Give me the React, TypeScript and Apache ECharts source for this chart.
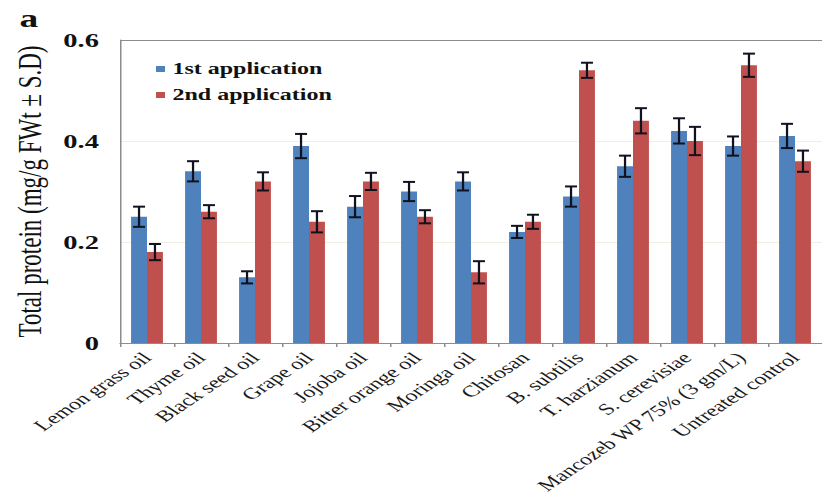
import React, { useEffect, useRef } from "react";
import * as echarts from "echarts";

const categories = [
  "Lemon grass oil",
  "Thyme oil",
  "Black seed oil",
  "Grape oil",
  "Jojoba oil",
  "Bitter orange oil",
  "Moringa oil",
  "Chitosan",
  "B. subtilis",
  "T. harzianum",
  "S. cerevisiae",
  "Mancozeb WP 75% (3 gm/L)",
  "Untreated control",
];
const firstApp = [0.25, 0.34, 0.13, 0.39, 0.27, 0.3, 0.32, 0.22, 0.29, 0.35, 0.42, 0.39, 0.41];
const firstErr = [0.02, 0.02, 0.012, 0.024, 0.021, 0.019, 0.018, 0.012, 0.02, 0.021, 0.025, 0.019, 0.024];
const secondApp = [0.18, 0.26, 0.32, 0.24, 0.32, 0.25, 0.14, 0.24, 0.54, 0.44, 0.4, 0.55, 0.36];
const secondErr = [0.016, 0.013, 0.018, 0.021, 0.017, 0.013, 0.022, 0.014, 0.015, 0.025, 0.028, 0.023, 0.021];
const yTicks = [0, 0.2, 0.4, 0.6];
const seriesNames = ["1st application", "2nd application"];

const CAT_GAP = 0.41;
const SERIF = "'Liberation Serif', 'Times New Roman', serif";

function errorRender(sign: number) {
  return (params: any, api: any) => {
    const i = api.value(0);
    const v = api.value(1);
    const e = api.value(2);
    const band = api.size([1, 0])[0];
    const bw = (band * (1 - CAT_GAP)) / 2;
    const cx = api.coord([i, v])[0] + (sign * bw) / 2;
    const top = api.coord([i, v + e])[1];
    const bot = api.coord([i, v - e])[1];
    const half = 4;
    const st = { stroke: "#10131f", lineWidth: 1.5 };
    const cs = { stroke: "#10131f", lineWidth: 2 };
    return {
      type: "group",
      children: [
        { type: "line", shape: { x1: cx, y1: top, x2: cx, y2: bot }, style: st },
        { type: "line", shape: { x1: cx - half, y1: top, x2: cx + half, y2: top }, style: cs },
        { type: "line", shape: { x1: cx - half, y1: bot, x2: cx + half, y2: bot }, style: cs },
      ],
    };
  };
}

export default function App() {
  const ref = useRef<HTMLDivElement>(null);
  useEffect(() => {
    if (!ref.current) return;
    const chart = echarts.init(ref.current, undefined, { renderer: "svg" });
    chart.setOption({
      animation: false,
      backgroundColor: "#ffffff",
      grid: {
        left: 80,
        right: 0,
        top: 40,
        bottom: 159,
        containLabel: false,
        outerBoundsMode: "none",
      },
      legend: {
        orient: "vertical",
        left: 99,
        top: 56,
        itemWidth: 6,
        itemHeight: 6,
        itemGap: 10,
        icon: "rect",
        data: seriesNames,
        textStyle: { fontFamily: SERIF, fontWeight: "bold", fontSize: 16, color: "#111" },
      },
      graphic: [
        {
          type: "text",
          left: 13,
          top: 6,
          style: { text: "a", font: `bold 25px ${SERIF}`, fill: "#111" },
        },
      ],
      xAxis: {
        type: "category",
        data: categories,
        axisLine: { show: true, lineStyle: { color: "#8c8c8c", width: 1 } },
        axisTick: { show: true, length: 4, lineStyle: { color: "#8c8c8c" } },
        axisLabel: {
          rotate: 45,
          interval: 0,
          margin: 12,
          fontFamily: SERIF,
          fontSize: 16,
          color: "#1a1a1a",
        },
      },
      yAxis: {
        type: "value",
        min: 0,
        max: 0.6,
        interval: 0.2,
        name: "Total protein (mg/g FWt ± S.D)",
        nameLocation: "middle",
        nameGap: 49,
        nameTextStyle: { fontFamily: SERIF, fontSize: 23, color: "#111" },
        axisLine: { show: true, lineStyle: { color: "#8c8c8c", width: 1 } },
        axisTick: { show: false },
        splitLine: {
          show: true,
          lineStyle: { color: ["#8c8c8c", "#f0f0e2", "#f0f0e2", "#8c8c8c"], width: 1 },
        },
        axisLabel: {
          margin: 14,
          fontFamily: SERIF,
          fontWeight: "bold",
          fontSize: 19,
          color: "#111",
          formatter: (v: number) => (v === 0 ? "0" : v.toFixed(1)),
        },
      },
      series: [
        {
          name: seriesNames[0],
          type: "bar",
          data: firstApp,
          barGap: "0%",
          barCategoryGap: `${CAT_GAP * 100}%`,
          itemStyle: { color: "#4f81bd" },
        },
        {
          name: seriesNames[1],
          type: "bar",
          data: secondApp,
          barGap: "0%",
          barCategoryGap: `${CAT_GAP * 100}%`,
          itemStyle: { color: "#c0504d" },
        },
        {
          type: "custom",
          z: 10,
          renderItem: errorRender(-1),
          encode: { x: 0, y: 1 },
          data: firstApp.map((v, i) => [i, v, firstErr[i]]),
        },
        {
          type: "custom",
          z: 10,
          renderItem: errorRender(1),
          encode: { x: 0, y: 1 },
          data: secondApp.map((v, i) => [i, v, secondErr[i]]),
        },
      ],
    });
    return () => chart.dispose();
  }, []);
  return (
    <div
      ref={ref}
      style={{
        position: "fixed",
        left: 0,
        top: 0,
        width: 548,
        height: 502,
        transform: "scaleX(1.5)",
        transformOrigin: "0 0",
        background: "#fff",
      }}
    />
  );
}
